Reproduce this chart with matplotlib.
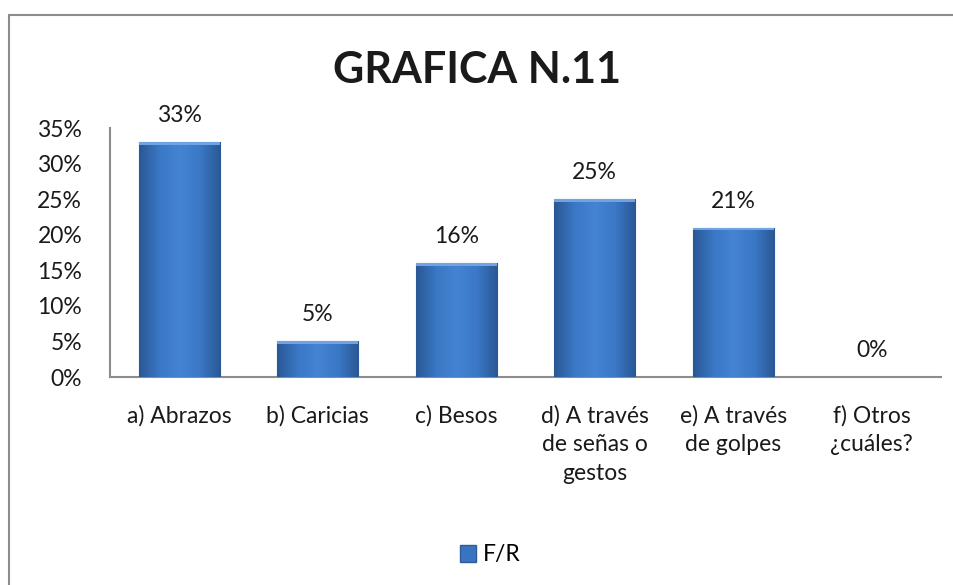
import matplotlib
matplotlib.use("Agg")
import matplotlib.pyplot as plt
import numpy as np
from matplotlib.patches import Rectangle
from matplotlib.colors import LinearSegmentedColormap

# data
categories = ["a) Abrazos", "b) Caricias", "c) Besos",
              "d) A través\nde señas o\ngestos", "e) A través\nde golpes",
              "f) Otros\n¿cuáles?"]
values = [0.33, 0.05, 0.16, 0.25, 0.21, 0.00]
value_labels = ["33%", "5%", "16%", "25%", "21%", "0%"]
yticks = [0, 0.05, 0.10, 0.15, 0.20, 0.25, 0.30, 0.35]
ytick_labels = ["0%", "5%", "10%", "15%", "20%", "25%", "30%", "35%"]
series_name = "F/R"
title = "GRAFICA N.11"

plt.rcParams["font.family"] = ["Lato", "DejaVu Sans"]
FS = 16.5

fig = plt.figure(figsize=(9.54, 5.85), dpi=100)
ax = fig.add_axes([110 / 954, 1 - 377 / 585, (941 - 110) / 954, (377 - 128) / 585])

# outer frame of the chart area
fig.patches.append(Rectangle((9 / 954, -0.05), 1.05, 1 - 15 / 585 + 0.05,
                             transform=fig.transFigure, fill=False,
                             edgecolor="#8c8c8c", linewidth=1.5))

x = np.arange(len(categories))
bars = ax.bar(x, values, width=0.585, color="#3a74c0", edgecolor="#2d5c9c",
              linewidth=0.8, label=series_name, zorder=2)

# bevel-ish gradient over each bar
cmap = LinearSegmentedColormap.from_list("bev", ["#2a5895", "#3b78c6", "#4484d2", "#3b78c6", "#2a5895"])
grad = np.tile(np.linspace(0, 1, 64), (32, 1))
for b in bars:
    if b.get_height() <= 0:
        continue
    im = ax.imshow(grad, cmap=cmap, aspect="auto", zorder=3,
                   extent=[b.get_x(), b.get_x() + b.get_width(), 0, b.get_height()])
    im.set_clip_path(b)
    # lighter top edge
    ax.bar(b.get_x() + b.get_width() / 2, 0.004, bottom=b.get_height() - 0.004,
           width=b.get_width(), color="#6fa3e3", zorder=4, linewidth=0)

for xi, v, lab in zip(x, values, value_labels):
    ax.annotate(lab, (xi, v), xytext=(0, 16), textcoords="offset pixels",
                ha="center", va="bottom", fontsize=FS, color="#1a1a1a")

ax.set_xlim(-0.5, len(categories) - 0.5)
ax.set_ylim(0, 0.35)
ax.set_yticks(yticks)
ax.set_yticklabels(ytick_labels, fontsize=FS)
ax.set_xticks(x)
ax.set_xticklabels(categories, fontsize=FS, linespacing=1.45, va="top")
ax.tick_params(axis="both", length=0, colors="#1a1a1a")
ax.tick_params(axis="x", pad=20)
ax.tick_params(axis="y", pad=20)
for s in ["top", "right"]:
    ax.spines[s].set_visible(False)
for s in ["left", "bottom"]:
    ax.spines[s].set_color("#8c8c8c")
    ax.spines[s].set_linewidth(1.5)

fig.text(0.5, 1 - 70 / 585, title, ha="center", va="center",
         fontsize=31, fontweight="bold", color="#1a1a1a")

leg = fig.legend(handles=[Rectangle((0, 0), 1, 1, facecolor="#3a74c0", edgecolor="#2d5c9c")],
                 labels=[series_name], loc="center", bbox_to_anchor=(490 / 954, 1 - 555 / 585),
                 frameon=False, fontsize=FS, handlelength=0.7, handleheight=0.7,
                 handletextpad=0.3)

fig.savefig("out.png", dpi=100)
